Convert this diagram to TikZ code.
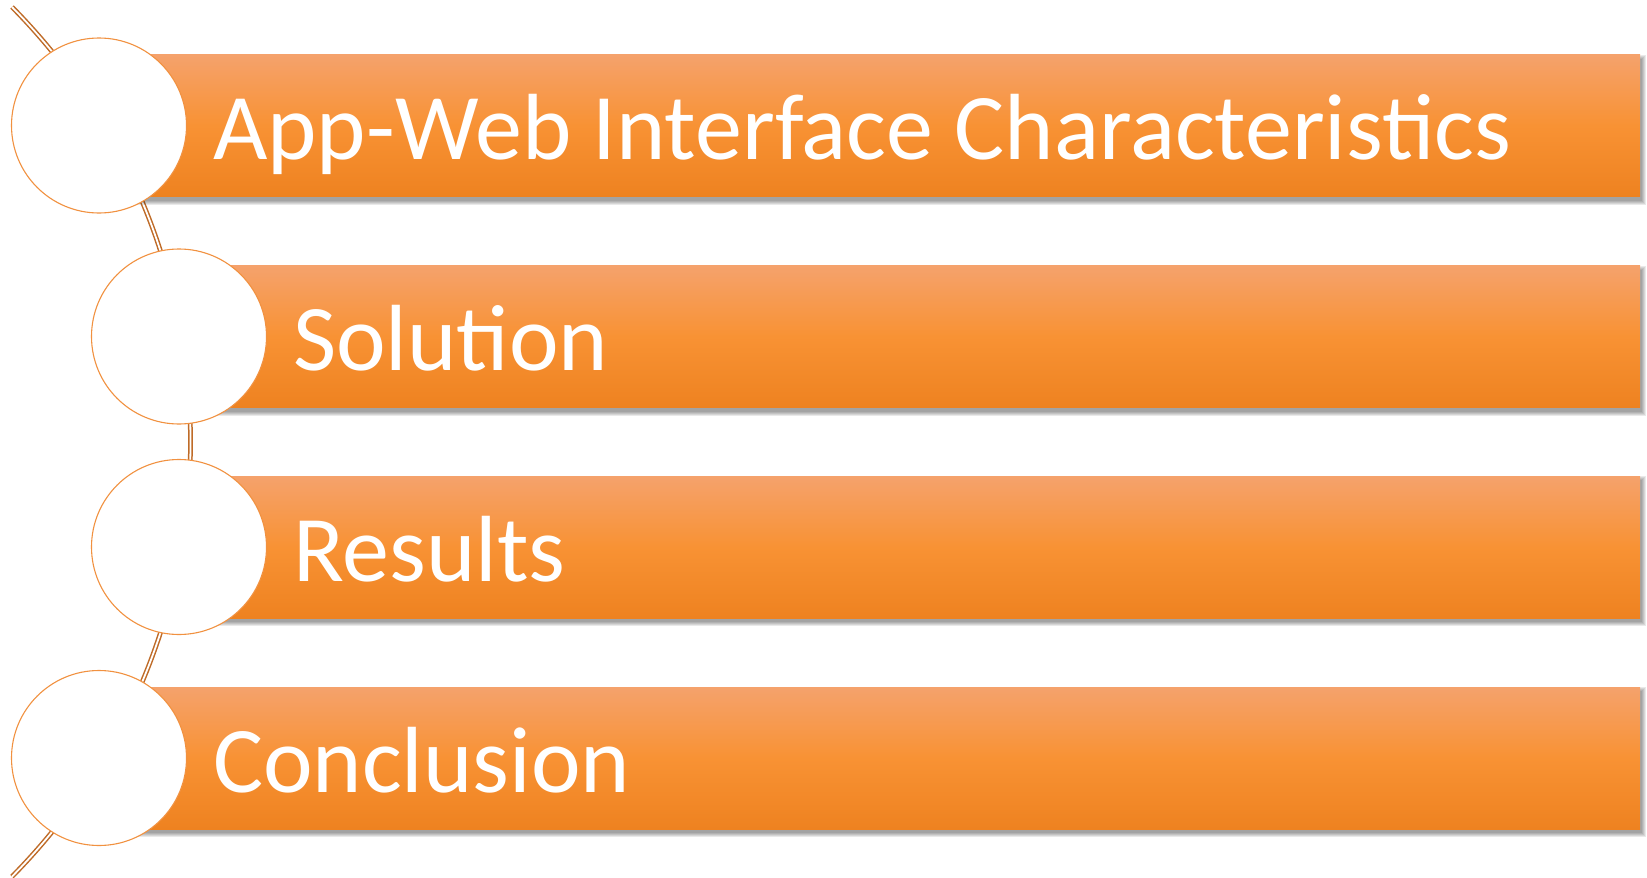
\documentclass[tikz,border=0pt]{standalone}
\usepackage{fontspec}
\setmainfont{Carlito}
\definecolor{barTop}{HTML}{F5A26C}
\definecolor{barMid}{HTML}{F89234}
\definecolor{barBot}{HTML}{EE8220}
\definecolor{ringLine}{HTML}{F19140}
\definecolor{arcLine}{HTML}{BF6B28}
\tikzset{
  ringnode/.style={circle, draw=ringLine, line width=1.1pt, fill=white, minimum size=175pt, inner sep=0pt},
  barlabel/.style={anchor=base west, inner sep=0pt, text=white, font=\fontsize{94}{94}\selectfont},
  arcpath/.style={draw=arcLine, double=white, double distance=1.8pt, line width=1.5pt},
  barfill/.style={top color=barTop, bottom color=barBot, middle color=barMid, draw=none},
}
\begin{document}
\begin{tikzpicture}[x=1pt,y=-1pt]
\useasboundingbox (0,0) rectangle (1647,878);
\coordinate (arcTop) at (12,7);
\path[arcpath] (arcTop) arc[start angle=-44.65, end angle=44.65, radius=618.7];
\foreach \cx/\cy/\n/\txt in {99/125.5/1/{App-Web Interface Characteristics},179/336.5/2/Solution,179/547/3/Results,99/758/4/Conclusion}{
  % soft shadow
  \foreach \k in {0,1,2,3,4}{
    \fill[black, opacity=0.085] (\cx+2-\k*0.5, \cy-71+4-\k) rectangle (1640+2+\k, \cy+71+4+\k);
  }
  \node[barfill, minimum width=1640pt-\cx pt, minimum height=142pt, inner sep=0pt, anchor=west] (b\n) at (\cx,\cy) {};
  \node[ringnode] (c\n) at (\cx,\cy) {};
  \node[barlabel] (t\n) at (\cx+114,\cy+34) {\txt};
}
\end{tikzpicture}
\end{document}
